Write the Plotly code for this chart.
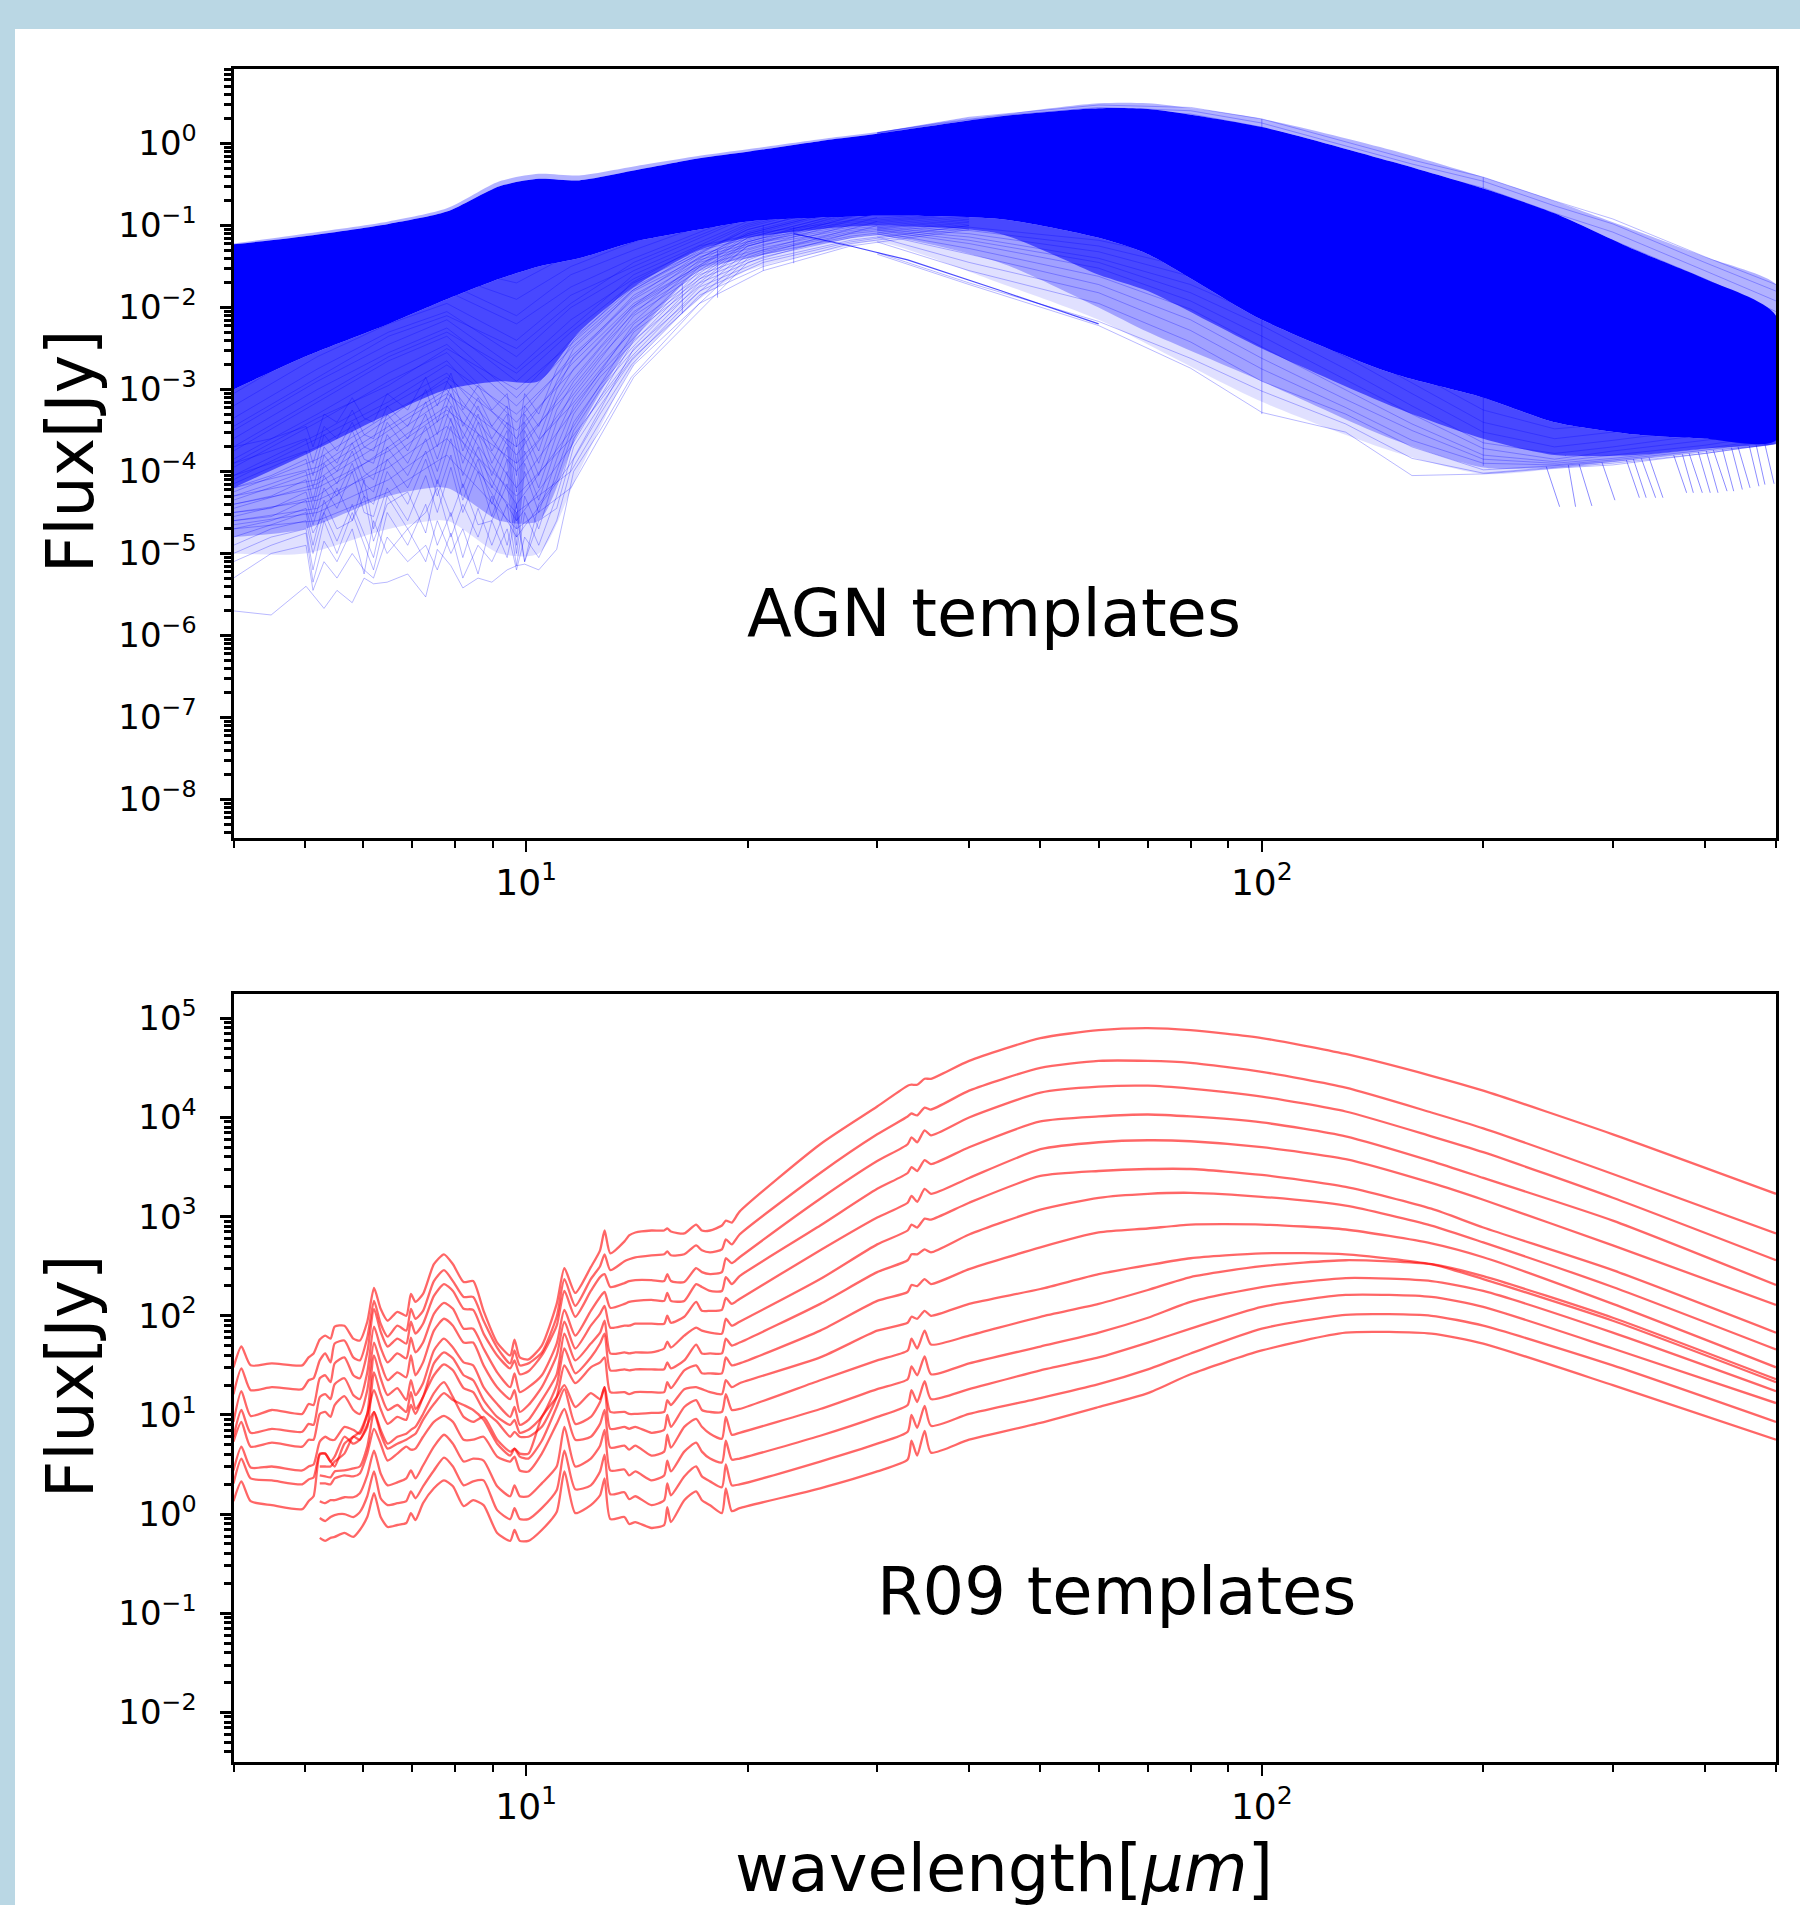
import plotly.graph_objects as go

# ---------- R09 templates: log10 flux [Jy] ----------
red_wave = [4.00,4.10,4.22,4.51,4.96,5.06,5.14,5.24,5.33,5.42,5.49,5.66,5.82,5.94,6.08,6.21,6.34,6.48,6.68,6.87,6.97,7.07,7.24,7.49,7.73,7.95,8.22,8.47,8.75,9.13,9.51,9.64,9.80,
            10.07,10.5,11.0,11.27,11.66,12.24,12.6,12.78,13.01,13.6,13.8,14.07,14.8,15.4,15.55,15.73,16.4,17.02,17.33,17.78,18.45,18.68,19.03,19.5,
            25.1,30,33.0,33.4,34.0,34.8,35.5,40,50,60,70,80,100,130,170,200,300,500]
N = None
r09_1 = [1.48,1.69,1.50,1.52,1.50,1.58,1.62,1.76,1.80,1.77,1.89,1.90,1.77,1.75,1.94,2.28,2.07,1.95,2.04,2.00,2.22,2.14,2.22,2.52,2.62,2.52,2.34,2.35,2.05,1.73,1.60,1.76,1.58,
         1.56,1.70,2.12,2.48,2.23,2.49,2.66,2.86,2.63,2.75,2.81,2.84,2.86,2.86,2.88,2.85,2.83,2.92,2.86,2.86,2.91,2.96,2.94,3.05,
         3.73,4.11,4.32,4.33,4.33,4.39,4.39,4.57,4.80,4.88,4.90,4.88,4.80,4.64,4.42,4.27,3.83,3.23]
r09_2 = [1.21,1.47,1.25,1.28,1.26,1.35,1.37,1.55,1.62,1.53,1.72,1.75,1.58,1.55,1.78,2.15,1.92,1.79,1.90,1.85,2.07,1.97,2.05,2.35,2.46,2.35,2.19,2.19,1.95,1.68,1.52,1.65,1.50,
         1.52,1.63,1.99,2.37,2.10,2.37,2.50,2.62,2.46,2.55,2.57,2.59,2.61,2.62,2.65,2.61,2.62,2.71,2.66,2.64,2.67,2.77,2.72,2.82,
         3.44,3.83,4.01,4.04,4.02,4.10,4.08,4.27,4.50,4.57,4.57,4.55,4.46,4.30,4.05,3.89,3.43,2.83]
r09_3 = [0.93,1.24,0.99,1.05,1.01,1.11,1.10,1.37,1.40,1.33,1.52,1.58,1.40,1.37,1.63,2.07,1.84,1.69,1.77,1.72,1.94,1.82,1.92,2.20,2.32,2.25,2.07,2.06,1.82,1.60,1.47,1.55,1.41,
         1.44,1.60,1.90,2.25,1.99,2.25,2.39,2.42,2.29,2.33,2.35,2.36,2.36,2.35,2.42,2.35,2.34,2.48,2.44,2.42,2.44,2.58,2.53,2.59,
         3.18,3.56,3.73,3.80,3.75,3.87,3.82,4.00,4.25,4.31,4.32,4.29,4.21,4.06,3.81,3.65,3.19,2.56]
r09_4 = [0.78,1.05,0.82,0.86,0.83,0.91,0.90,1.18,1.21,1.16,1.31,1.37,1.20,1.16,1.43,1.89,1.68,1.53,1.62,1.57,1.78,1.63,1.73,2.02,2.13,2.07,1.87,1.87,1.67,1.43,1.28,1.42,1.23,
         1.28,1.40,1.72,2.06,1.80,2.05,2.19,2.24,2.08,2.12,2.14,2.15,2.16,2.15,2.23,2.15,2.15,2.32,2.29,2.25,2.25,2.39,2.32,2.40,
         2.91,3.28,3.44,3.50,3.46,3.57,3.53,3.70,3.96,4.01,4.03,4.01,3.95,3.81,3.56,3.39,2.96,2.31]
r09_5 = [0.73,0.93,0.68,0.72,0.68,0.75,0.75,1.01,1.03,0.98,1.10,1.19,1.05,1.01,1.25,1.73,1.52,1.35,1.43,1.38,1.60,1.40,1.53,1.85,1.97,1.90,1.73,1.73,1.50,1.28,1.16,1.25,1.03,
         1.10,1.28,1.60,1.94,1.67,1.90,2.02,2.10,1.88,1.90,1.90,1.92,1.92,1.92,2.00,1.93,1.99,2.14,2.05,2.05,2.06,2.18,2.12,2.17,
         2.66,2.99,3.14,3.21,3.15,3.28,3.23,3.39,3.68,3.75,3.77,3.76,3.70,3.58,3.34,3.17,2.71,2.11]
r09_6 = [0.44,0.68,0.47,0.48,0.44,0.48,0.50,0.73,0.78,0.75,0.75,0.88,0.85,0.81,1.01,1.60,1.37,1.20,1.27,1.15,1.35,1.20,1.32,1.65,1.77,1.68,1.53,1.50,1.28,1.11,0.98,1.08,0.90,
         0.95,1.15,1.41,1.82,1.55,1.72,1.83,1.95,1.62,1.63,1.62,1.63,1.63,1.67,1.74,1.68,1.80,1.88,1.85,1.83,1.82,1.97,1.90,1.94,
         2.37,2.72,2.86,2.92,2.89,2.98,2.97,3.14,3.41,3.46,3.48,3.48,3.42,3.30,3.08,2.89,2.46,1.83]
r09_7 = [0.31,0.56,0.36,0.34,0.30,0.35,0.37,0.61,0.61,0.53,0.58,0.78,0.71,0.75,0.88,1.43,1.21,1.05,1.10,1.03,1.23,1.06,1.18,1.52,1.63,1.57,1.40,1.35,1.15,0.98,0.90,0.95,0.82,
         0.85,0.98,1.30,1.67,1.42,1.58,1.72,1.82,1.45,1.46,1.45,1.46,1.46,1.46,1.53,1.47,1.55,1.71,1.62,1.62,1.62,1.77,1.70,1.73,
         2.12,2.44,2.56,2.62,2.62,2.67,2.64,2.82,3.07,3.19,3.23,3.24,3.20,3.11,2.91,2.74,2.29,1.66]
r09_8 = [0.13,0.33,0.13,0.09,0.05,0.13,0.18,0.60,0.61,0.53,0.48,0.71,0.78,0.83,1.01,1.25,1.06,0.91,0.98,0.95,1.10,1.01,1.18,1.40,1.51,1.45,1.27,1.23,1.05,0.93,0.78,0.83,0.78,
         0.78,0.88,1.18,1.50,1.32,1.48,1.53,1.58,1.23,1.23,1.21,1.23,1.23,1.23,1.33,1.27,1.45,1.50,1.42,1.42,1.42,1.58,1.50,1.52,
         1.85,2.15,2.24,2.31,2.30,2.37,2.32,2.47,2.69,2.84,2.88,2.92,2.92,2.87,2.73,2.59,2.12,1.48]
r09_9 = [N,N,N,N,N,N,N,0.48,0.48,0.48,0.53,0.61,0.78,0.75,0.90,1.03,0.85,0.71,0.78,0.81,0.85,0.88,1.01,1.22,1.33,1.18,0.98,0.93,0.98,0.75,0.63,0.66,0.61,
         0.61,0.98,1.18,1.30,1.08,1.22,1.16,1.28,1.03,1.03,1.01,1.01,1.02,1.03,1.15,1.10,1.26,1.28,1.26,1.23,1.21,1.35,1.28,1.32,
         1.58,1.85,1.93,1.99,1.97,2.05,2.00,2.12,2.27,2.42,2.51,2.58,2.63,2.62,2.52,2.37,1.95,1.33]
r09_10 = [N,N,N,N,N,N,N,0.39,0.38,0.37,0.43,0.44,0.46,0.48,0.68,1.03,0.81,0.66,0.71,0.75,0.78,0.81,0.95,1.11,1.22,1.15,1.10,1.05,0.95,0.71,0.59,0.66,0.58,
          0.56,0.74,1.08,1.26,0.91,0.98,1.13,1.28,0.86,0.88,0.86,0.88,0.82,0.85,1.00,0.88,1.08,1.15,1.05,1.03,1.03,1.21,1.05,1.06,
          1.35,1.55,1.65,1.77,1.67,1.85,1.71,1.80,1.99,2.12,2.26,2.39,2.50,2.56,2.52,2.40,1.98,1.36]
r09_11 = [N,N,N,N,N,N,N,0.31,0.31,0.30,0.36,0.39,0.38,0.41,0.61,0.86,0.71,0.54,0.61,0.68,0.65,0.66,0.78,0.93,0.99,0.93,0.75,0.75,0.78,0.58,0.53,0.58,0.44,
          0.43,0.61,0.91,1.06,0.75,0.78,0.91,1.05,0.67,0.69,0.65,0.69,0.59,0.63,0.80,0.67,0.88,0.96,0.88,0.81,0.76,0.98,0.80,0.82,
          1.06,1.26,1.36,1.49,1.40,1.59,1.41,1.52,1.69,1.83,1.98,2.14,2.29,2.38,2.35,2.25,1.83,1.24]
r09_12 = [N,N,N,N,N,N,N,0.13,0.11,0.14,0.14,0.17,0.17,0.21,0.39,0.64,0.41,0.29,0.32,0.36,0.44,0.36,0.49,0.68,0.80,0.71,0.53,0.56,0.54,0.28,0.18,0.29,0.18,
          0.18,0.31,0.48,0.88,0.48,0.56,0.69,0.85,0.44,0.45,0.39,0.43,0.34,0.39,0.54,0.43,0.63,0.72,0.63,0.56,0.52,0.74,0.55,0.56,
          0.79,0.98,1.10,1.25,1.13,1.34,1.16,1.26,1.45,1.58,1.73,1.87,2.09,2.21,2.19,2.09,1.67,1.12]
r09_13 = [N,N,N,N,N,N,N,-0.04,-0.07,-0.03,-0.01,0.00,-0.03,0.02,0.18,0.43,0.16,0.09,0.11,0.13,0.23,0.16,0.28,0.44,0.57,0.48,0.29,0.33,0.34,0.04,-0.05,0.06,-0.05,
          -0.05,0.06,0.24,0.64,0.25,0.29,0.43,0.60,0.20,0.22,0.15,0.18,0.09,0.14,0.31,0.19,0.38,0.48,0.38,0.33,0.27,0.50,0.29,0.30,
          0.53,0.71,0.83,1.00,0.87,1.09,0.89,1.01,1.17,1.31,1.46,1.62,1.87,2.01,2.00,1.90,1.50,0.93]
r09_14 = [N,N,N,N,N,N,N,-0.24,-0.27,-0.24,-0.23,-0.19,-0.23,-0.16,-0.03,0.21,-0.03,-0.13,-0.11,-0.09,0.01,-0.06,0.11,0.26,0.34,0.28,0.08,0.14,0.09,-0.19,-0.27,-0.16,-0.27,
          -0.27,-0.16,0.02,0.43,0.01,0.09,0.19,0.36,-0.05,-0.03,-0.10,-0.08,-0.14,-0.11,0.07,-0.08,0.14,0.23,0.14,0.09,0.01,0.26,0.03,0.06,
          0.26,0.43,0.55,0.74,0.59,0.84,0.62,0.75,0.92,1.08,1.22,1.41,1.65,1.83,1.82,1.72,1.30,0.75]
r09_curves = [r09_1,r09_2,r09_3,r09_4,r09_5,r09_6,r09_7,r09_8,r09_9,r09_10,r09_11,r09_12,r09_13,r09_14]

# ---------- AGN templates: the thousands of overlapping lines, summarised ----------
agn_band_wave = [4,5,6.5,7.8,9.2,10.4,11.8,14,17.2,20,26,30,44,60,70,100,150,200,250,322,400,500]
agn_halo_top  = [-1.22,-1.10,-.95,-.79,-.46,-.37,-.39,-.28,-.15,-.07,.07,.14,.35,.49,.49,.30,-.08,-.41,-.70,-1.06,-1.38,-1.72]
agn_solid_top = [-1.23,-1.13,-.98,-.83,-.52,-.43,-.45,-.33,-.18,-.10,.05,.12,.33,.43,.42,.20,-.22,-.55,-.85,-1.30,-1.65,-2.10]
agn_solid_low = [-3.00,-2.60,-2.20,-1.90,-1.65,-1.50,-1.40,-1.20,-1.05,-.95,-.90,-.88,-.92,-1.15,-1.35,-2.15,-2.80,-3.10,-3.40,-3.55,-3.60,-3.62]
agn_mid_low   = [-4.20,-3.80,-3.30,-3.00,-2.90,-2.90,-2.30,-1.75,-1.30,-1.15,-1.03,-1.00,-1.10,-1.60,-1.80,-2.50,-3.20,-3.60,-3.80,-3.80,-3.72,-3.65]
agn_thin_low  = [-4.80,-4.70,-4.30,-4.20,-4.60,-4.60,-3.50,-2.40,-1.55,-1.40,-1.20,-1.12,-1.45,-2.00,-2.30,-2.90,-3.60,-3.95,-3.95,-3.85,-3.75,-3.66]
agn_faint_low = [-5.00,-5.00,-4.70,-4.60,-5.00,-5.00,-4.00,-2.70,-1.90,-1.55,-1.30,-1.20,-1.70,-2.15,-2.45,-3.15,-3.75,-4.03,-3.97,-3.87,-3.76,-3.66]

agn_left_wave = [4,5.2,6.5,7.8,9.7,11.5,14,20,30]
agn_left_lines = [
 [-2.2,-1.75,-1.45,-1.25,-1.35,-1.05,-0.9,-0.6,-0.4],
 [-2.4,-1.9,-1.6,-1.35,-1.55,-1.2,-1.0,-0.65,-0.45],
 [-2.6,-2.05,-1.7,-1.5,-1.7,-1.35,-1.1,-0.7,-0.45],
 [-2.75,-2.2,-1.85,-1.6,-1.9,-1.5,-1.2,-0.75,-0.5],
 [-2.9,-2.3,-1.95,-1.7,-2.1,-1.6,-1.3,-0.8,-0.5],
 [-3.05,-2.45,-2.05,-1.8,-2.2,-1.75,-1.4,-0.85,-0.55],
 [-3.2,-2.6,-2.2,-1.95,-2.4,-1.85,-1.5,-0.9,-0.55],
 [-3.35,-2.75,-2.3,-2.05,-2.6,-2.0,-1.55,-0.95,-0.6],
 [-3.5,-2.9,-2.45,-2.15,-2.75,-2.15,-1.65,-1.0,-0.6],
 [-3.6,-3.0,-2.55,-2.25,-2.9,-2.3,-1.7,-1.05,-0.65],
 [-3.75,-3.15,-2.65,-2.35,-3.1,-2.4,-1.75,-1.05,-0.65],
 [-3.85,-3.3,-2.8,-2.45,-3.2,-2.5,-1.8,-1.1,-0.7],
 [-3.95,-3.4,-2.9,-2.55,-3.4,-2.6,-1.9,-1.1,-0.7],
 [-4.05,-3.55,-3.05,-2.65,-3.6,-2.7,-1.95,-1.15,-0.75],
 [-4.15,-3.7,-3.2,-2.8,-3.8,-2.9,-2.0,-1.15,-0.75],
 [-4.25,-3.85,-3.3,-2.9,-4.0,-3.1,-2.1,-1.2,-0.75],
 [-4.35,-4.0,-3.45,-3.0,-4.2,-3.3,-2.2,-1.2,-0.8],
 [-4.45,-4.15,-3.6,-3.1,-4.4,-3.5,-2.3,-1.25,-0.8],
 [-4.55,-4.3,-3.7,-3.2,-4.6,-3.7,-2.4,-1.25,-0.85],
 [-4.6,-4.45,-3.85,-3.3,-4.8,-3.9,-2.5,-1.3,-0.85],
 [-4.5,-4.35,-3.95,-3.45,-4.3,-3.6,-2.6,-1.35,-0.9],
 [-4.4,-4.2,-3.75,-3.25,-3.9,-3.2,-2.25,-1.22,-0.82],
 [-4.3,-4.1,-3.5,-3.05,-3.7,-3.0,-2.05,-1.18,-0.78],
 [-4.2,-3.95,-3.35,-2.85,-3.5,-2.8,-1.98,-1.12,-0.72],
 [-4.1,-3.6,-3.15,-2.7,-3.3,-2.65,-1.85,-1.08,-0.68],
 [-3.9,-3.35,-2.95,-2.5,-3.0,-2.45,-1.78,-1.02,-0.62],
 [-3.7,-3.1,-2.6,-2.3,-2.8,-2.25,-1.6,-0.98,-0.58],
 [-3.45,-2.85,-2.35,-2.1,-2.5,-1.95,-1.45,-0.88,-0.52],
 [-4.65,-4.5,-4.1,-3.6,-4.5,-4.0,-2.7,-1.4,-0.95],
 [-4.7,-4.6,-4.25,-3.8,-4.7,-4.2,-2.85,-1.45,-1.0],
]
agn_zig_wave = [4.0,4.5,5.02,5.13,5.31,5.53,5.8,6.02,6.2,6.47,6.9,7.3,7.57,7.9,8.2,8.6,8.98,9.42,9.7,9.95,10.4,11.0,11.6,12.6,13.9,17.2,21,27.6,40]
agn_zig_lines = [
 [-5.7,-5.75,-5.4,-5.5,-5.67,-5.45,-5.6,-5.3,-5.37,-5.35,-5.25,-5.53,-4.95,-5.15,-5.42,-5.3,-5.35,-5.2,-5.15,-5.13,-5.2,-4.95,-4.0,-3.5,-2.85,-1.95,-1.55,-1.25,-1.05],
 [-5.3,-5.0,-4.9,-5.45,-5.1,-5.3,-5.0,-5.2,-5.3,-4.8,-5.1,-4.9,-5.2,-4.75,-5.3,-4.9,-5.1,-4.7,-5.2,-4.8,-5.05,-4.6,-3.85,-3.3,-2.7,-1.85,-1.5,-1.22,-1.03],
 [-5.1,-4.9,-4.75,-5.35,-4.85,-5.1,-4.7,-5.25,-4.6,-5.0,-4.7,-5.1,-4.6,-5.0,-4.7,-5.25,-4.6,-5.05,-4.5,-5.1,-4.6,-4.45,-3.7,-3.2,-2.65,-1.8,-1.45,-1.2,-1.0],
 [-5.0,-4.8,-4.7,-5.2,-4.6,-5.0,-4.5,-4.9,-5.2,-4.5,-4.9,-4.4,-4.9,-4.5,-5.05,-4.45,-4.9,-4.4,-5.15,-4.5,-4.9,-4.3,-3.6,-3.1,-2.6,-1.75,-1.42,-1.18,-1.0],
 [-4.9,-4.7,-4.6,-5.0,-4.5,-4.85,-4.4,-4.75,-5.05,-4.3,-4.7,-4.5,-4.2,-4.8,-4.4,-4.8,-4.3,-4.9,-4.4,-5.1,-4.4,-4.1,-3.5,-3.0,-2.55,-1.7,-1.38,-1.15,-.98],
 [-4.8,-4.65,-4.5,-4.9,-4.35,-4.7,-4.6,-4.3,-4.85,-4.4,-4.25,-4.75,-4.1,-4.55,-4.15,-4.65,-4.6,-4.15,-5.0,-4.3,-4.7,-4.0,-3.4,-2.95,-2.5,-1.65,-1.35,-1.13,-.96],
 [-4.7,-4.6,-4.45,-4.75,-4.5,-4.2,-4.6,-4.1,-4.7,-4.2,-4.6,-4.05,-4.5,-3.95,-4.5,-4.0,-4.55,-4.0,-4.9,-4.0,-4.5,-3.85,-3.3,-2.85,-2.45,-1.6,-1.32,-1.1,-.95],
 [-4.6,-4.55,-4.35,-4.65,-4.2,-4.45,-4.0,-4.5,-4.55,-4.0,-4.4,-3.85,-4.3,-3.8,-4.35,-3.85,-4.4,-3.85,-4.8,-3.9,-4.35,-3.7,-3.2,-2.8,-2.4,-1.55,-1.3,-1.08,-.93],
 [-4.5,-4.45,-4.25,-4.55,-4.05,-4.3,-3.9,-4.3,-4.4,-3.85,-4.2,-3.75,-4.15,-3.6,-4.2,-3.7,-4.2,-3.7,-4.7,-3.75,-4.2,-3.55,-3.1,-2.7,-2.3,-1.5,-1.27,-1.06,-.92],
 [-4.4,-4.3,-4.1,-4.45,-3.9,-4.15,-3.75,-4.15,-4.25,-3.7,-4.05,-3.6,-4.0,-3.45,-4.05,-3.55,-4.05,-3.6,-4.6,-3.6,-4.05,-3.4,-3.0,-2.6,-2.2,-1.45,-1.23,-1.04,-.9],
 [-4.3,-4.15,-4.0,-4.35,-3.8,-4.0,-3.65,-4.0,-4.1,-3.55,-3.9,-3.45,-3.85,-3.35,-3.9,-3.4,-3.9,-3.5,-4.45,-3.5,-3.9,-3.25,-2.9,-2.5,-2.1,-1.42,-1.2,-1.02,-.88],
 [-4.2,-4.05,-3.85,-4.2,-3.7,-3.9,-3.5,-3.85,-3.9,-3.4,-3.75,-3.3,-3.7,-3.2,-3.75,-3.3,-3.75,-3.4,-4.25,-3.4,-3.75,-3.1,-2.75,-2.4,-2.0,-1.38,-1.18,-1.0,-.86],
 [-4.05,-3.9,-3.75,-4.05,-3.55,-3.75,-3.4,-3.7,-3.75,-3.3,-3.6,-3.15,-3.55,-3.05,-3.6,-3.2,-3.6,-3.3,-4.05,-3.3,-3.6,-3.0,-2.6,-2.3,-1.9,-1.35,-1.15,-.98,-.85],
 [-3.9,-3.75,-3.6,-3.9,-3.45,-3.6,-3.25,-3.55,-3.6,-3.2,-3.45,-3.0,-3.4,-2.95,-3.45,-3.1,-3.45,-3.2,-3.9,-3.2,-3.45,-2.9,-2.5,-2.2,-1.8,-1.3,-1.12,-.96,-.84],
 [-3.7,-3.6,-3.45,-3.7,-3.3,-3.4,-3.1,-3.35,-3.4,-3.05,-3.25,-2.85,-3.2,-2.8,-3.25,-2.95,-3.25,-3.05,-3.7,-3.05,-3.3,-2.75,-2.4,-2.1,-1.7,-1.25,-1.08,-.94,-.82],
]
agn_right_wave = [30,40,60,80,100,130,160,200,250,300,400,500]
agn_right_lines = [
 [-1.35,-1.72,-2.22,-2.74,-3.28,-3.52,-4.05,-4.03,-3.96,-3.92,-3.78,-3.66],
 [-1.33,-1.70,-2.17,-2.62,-3.02,-3.42,-3.84,-4.02,-3.95,-3.90,-3.78,-3.66],
 [-1.20,-1.55,-1.95,-2.42,-2.90,-3.30,-3.70,-3.98,-3.93,-3.88,-3.76,-3.66],
 [-1.14,-1.45,-1.82,-2.28,-2.75,-3.22,-3.62,-3.90,-3.92,-3.86,-3.74,-3.62],
 [-1.10,-1.35,-1.72,-2.15,-2.62,-3.12,-3.50,-3.85,-3.90,-3.84,-3.72,-3.60],
 [-1.08,-1.28,-1.62,-2.02,-2.48,-3.00,-3.42,-3.80,-3.88,-3.80,-3.68,-3.55],
 [-1.06,-1.22,-1.52,-1.92,-2.35,-2.88,-3.30,-3.72,-3.85,-3.75,-3.62,-3.50],
 [-1.05,-1.18,-1.45,-1.82,-2.22,-2.75,-3.20,-3.65,-3.78,-3.70,-3.55,-3.42],
 [-1.04,-1.14,-1.40,-1.72,-2.10,-2.60,-3.05,-3.52,-3.70,-3.62,-3.48,-3.35],
 [-1.03,-1.10,-1.32,-1.62,-1.98,-2.48,-2.92,-3.40,-3.60,-3.52,-3.38,-3.25],
 [-1.02,-1.06,-1.25,-1.52,-1.85,-2.35,-2.78,-3.25,-3.48,-3.42,-3.28,-3.12],
 [-1.01,-1.02,-1.18,-1.42,-1.75,-2.22,-2.62,-3.10,-3.35,-3.30,-3.15,-3.00],
 [.13,.32,.47,.44,.30,.02,-.20,-.41,-.70,-.92,-1.38,-1.72],
 [.13,.31,.44,.40,.25,-.03,-.25,-.46,-.76,-.98,-1.45,-1.80],
 [.13,.30,.41,.36,.20,-.08,-.32,-.54,-.85,-1.08,-1.55,-1.92],
 [.12,.29,.38,.32,.15,-.15,-.40,-.62,-.95,-1.18,-1.65,-2.05],
]
agn_ridge_wave = [23.1,27.6,33,44,60]
agn_ridge_log  = [-1.1,-1.25,-1.42,-1.79,-2.2]
agn_tail_wave_top = [243.6,261,270,290,313,320,328,336,363,373,381,392,402,411,423,435,444,460,470,483]
agn_tail_wave_end = [254,267,281,302,326,333,343,351,378,386,397,407,417,429,438,450,461,474,483,497]
agn_tail_log_top  = [-3.94,-3.92,-3.91,-3.89,-3.86,-3.85,-3.84,-3.83,-3.80,-3.79,-3.78,-3.76,-3.75,-3.74,-3.73,-3.71,-3.70,-3.69,-3.68,-3.67]
agn_tail_log_end  = [-4.43,-4.43,-4.42,-4.35,-4.32,-4.32,-4.32,-4.32,-4.26,-4.26,-4.26,-4.26,-4.26,-4.24,-4.24,-4.22,-4.20,-4.18,-4.16,-4.15]
agn_step_wave = [16.3,18.2,21,23.1,100,200]
agn_step_top  = [-1.71,-1.30,-1.00,-1.02,0.30,-0.41]
agn_step_end  = [-2.07,-1.88,-1.55,-1.46,-3.30,-3.93]

x_ticks = [10,100]
x_tick_text = ["10<sup>1</sup>","10<sup>2</sup>"]
y1_exps = [0,-1,-2,-3,-4,-5,-6,-7,-8]
y2_exps = [5,4,3,2,1,0,-1,-2]
y_title = "Flux[Jy]"

BLUE = "rgba(0,0,255,0.28)"
RED = "rgba(255,0,0,0.6)"

def p10(values):
    return [None if v is None else 10**v for v in values]

fig = go.Figure()

def band(upper, lower, color):
    fig.add_trace(go.Scatter(
        x=agn_band_wave+agn_band_wave[::-1], y=p10(upper)+p10(lower)[::-1],
        mode="lines", line=dict(width=0, shape="spline", smoothing=0.7), fill="toself", fillcolor=color,
        xaxis="x", yaxis="y", hoverinfo="skip", showlegend=False))

def line(x, y, color=BLUE, width=1.0, axes=("x","y"), **kw):
    fig.add_trace(go.Scatter(x=x, y=y, mode="lines", line=dict(color=color, width=width, **kw),
                             xaxis=axes[0], yaxis=axes[1], hoverinfo="skip",
                             showlegend=False, connectgaps=False))

band(agn_solid_low, agn_faint_low, "rgba(0,0,255,0.12)")
band(agn_solid_low, agn_thin_low, "rgba(0,0,255,0.28)")
band(agn_solid_low, agn_mid_low, "rgba(0,0,255,0.55)")
band(agn_halo_top, agn_solid_top, "rgba(0,0,255,0.30)")
band(agn_solid_top, agn_solid_low, "rgb(0,0,255)")

for c in agn_left_lines:
    line(agn_left_wave, p10(c))
for c in agn_zig_lines:
    line(agn_zig_wave, p10(c))
for c in agn_right_lines:
    line(agn_right_wave, p10(c))
line(agn_ridge_wave, p10(agn_ridge_log), color="rgba(0,0,255,0.7)", width=1.2)
for a, b, t, e in zip(agn_tail_wave_top, agn_tail_wave_end, agn_tail_log_top, agn_tail_log_end):
    line([a, b], p10([t, e]), color="rgba(0,0,255,0.45)")
for w, t, e in zip(agn_step_wave, agn_step_top, agn_step_end):
    line([w, w], p10([t, e]), color="rgba(0,0,255,0.35)")

for c in r09_curves:
    line(red_wave, p10(c), color=RED, width=2.3, axes=("x2","y2"), shape="spline", smoothing=0.6)

minor_mult = [2,3,4,5,6,7,8,9]
x_minor = [m*d for d in (1,10,100) for m in minor_mult if 4 <= m*d <= 500]
y1_minor = [m*10.0**e for e in range(-9,1) for m in minor_mult]
y2_minor = [m*10.0**e for e in range(-3,6) for m in minor_mult]

def tick_font(size):
    return dict(family="DejaVu Sans", size=size, color="black")

def xaxis(domain_anchor):
    return dict(type="log", range=[0.60206,2.69897], domain=[233.5/1800,1776/1800], anchor=domain_anchor,
                showline=True, mirror=True, linecolor="black", linewidth=3, showgrid=False, zeroline=False,
                ticks="outside", ticklen=11, tickwidth=2, tickcolor="black",
                tickmode="array", tickvals=x_ticks, ticktext=x_tick_text, tickfont=tick_font(36),
                minor=dict(tickmode="array", tickvals=x_minor, ticks="outside", ticklen=7, tickwidth=2,
                           tickcolor="black", showgrid=False))

def yaxis(exps, rng, dom, minor_vals, anchor):
    return dict(type="log", range=rng, domain=dom, anchor=anchor,
                showline=True, mirror=True, linecolor="black", linewidth=3, showgrid=False, zeroline=False,
                ticks="outside", ticklen=11, tickwidth=3, tickcolor="black",
                tickmode="array", tickvals=[10.0**e for e in exps],
                ticktext=[f"10<sup>{str(e).replace('-', '−')}</sup>" for e in exps], tickfont=tick_font(34),
                ticklabelstandoff=16,
                minor=dict(tickmode="array", tickvals=minor_vals, ticks="outside", ticklen=7, tickwidth=2.5,
                           tickcolor="black", showgrid=False))

H = 1905.0
def note(text, px, py, size, angle=0):
    return dict(text=text, xref="paper", yref="paper", x=px/1800, y=1-py/H, xanchor="center", yanchor="middle",
                showarrow=False, textangle=angle, font=dict(family="DejaVu Sans", size=size, color="black"))

fig.update_layout(
    width=1800, height=1905, margin=dict(l=0,r=0,t=0,b=0),
    paper_bgcolor="#BAD7E4", plot_bgcolor="white", showlegend=False,
    xaxis=xaxis("y"), xaxis2=xaxis("y2"),
    yaxis=yaxis(y1_exps, [-8.47,0.915], [1-838/H,1-68.5/H], y1_minor, "x"),
    yaxis2=yaxis(y2_exps, [-2.5,5.25], [1-1762/H,1-993.5/H], y2_minor, "x2"),
    shapes=[dict(type="rect", xref="paper", yref="paper", x0=15/1800, x1=1, y0=0, y1=1-29/H,
                 fillcolor="white", line=dict(width=0), layer="below")],
    annotations=[
        note("AGN templates", 994, 613, 65.5),
        note("R09 templates", 1116, 1591, 65.5),
        note("wavelength[<i>μm</i>]", 1004, 1868, 65.5),
        note(y_title, 70, 452, 65, -90),
        note(y_title, 70, 1377, 65, -90),
    ],
)

fig.write_html("out.html", config={"displayModeBar": False},
               post_script="document.body.style.margin='0';document.body.style.overflow='hidden';")
